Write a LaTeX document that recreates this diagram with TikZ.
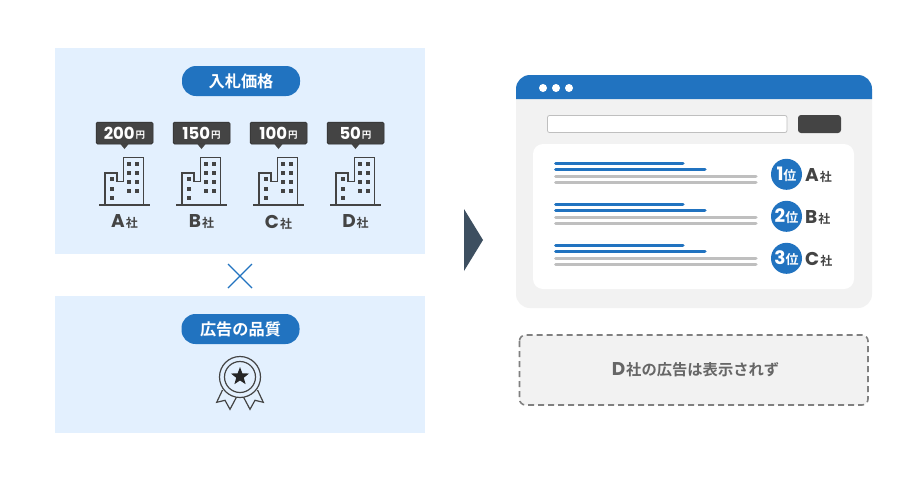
\documentclass[tikz,border=0pt]{standalone}
\usepackage{fontspec}
\usetikzlibrary{shapes.geometric}
\setmainfont{Poppins}
\newfontfamily\jp{Noto Sans CJK JP}[BoldFont={Noto Sans CJK JP Bold}]
\definecolor{panelblue}{HTML}{E3F0FE}
\definecolor{mainblue}{HTML}{2173C0}
\definecolor{darkgray}{HTML}{444444}
\definecolor{lightpanel}{HTML}{F2F2F2}
\definecolor{arrowslate}{HTML}{3D4F60}
\tikzset{
  x=1pt,y=-1pt,
  pill/.style={fill=mainblue,text=white,rounded corners=14pt,minimum width=118pt,minimum height=30pt,inner sep=0pt,font=\jp\bfseries\fontsize{16.2}{16.2}\selectfont},
  pricetag/.style={fill=darkgray,draw=black!85,line width=.5pt,rounded corners=1.5pt,minimum width=57pt,minimum height=22pt,inner sep=0pt,text=white},
  bline/.style={draw=darkgray,line width=1.2pt,fill=none,line join=miter},
  win/.style={fill=darkgray},
  corp/.style={text=darkgray,inner sep=0pt},
  resbar/.style={line width=3pt,line cap=round},
}
\newcommand{\lat}[1]{{\bfseries\fontsize{16.5}{16.5}\selectfont #1}}
\newcommand{\biglat}[1]{{\bfseries\fontsize{18.5}{18.5}\selectfont #1}}
\newcommand{\sm}[1]{{\jp\bfseries\fontsize{12}{12}\selectfont #1}}
\newcommand{\corpbuilding}[4]{%
  \begin{scope}[shift={(#1,0)}]
    \node[pricetag] (tag#2) at (124.5,133) {\raisebox{-.7pt}{\lat{#3}}\hspace{1pt}{\jp\bfseries\fontsize{9.5}{9.5}\selectfont 円}};
    \fill[darkgray] (120,143.5) -- (129,143.5) -- (124.5,149) -- cycle;
    \draw[bline] (99,205) -- (150,205);
    \draw[bline] (105,205) -- (105,173) -- (117,173) -- (117,181.7) -- (123.3,181.7) -- (123.3,157.3) -- (143.3,157.3) -- (143.3,205);
    \foreach \wy in {179.3,188.7,198} \fill[win] (109.7,\wy-2) rectangle ++(4,4);
    \foreach \wx in {129.3,137} \foreach \wy in {164,173,182.3,191.3} \fill[win] (\wx-2,\wy-2) rectangle ++(4,4);
    \node[corp] (corp#2) at (124.5,222) {\biglat{#4}\hspace{1pt}\sm{社}};
  \end{scope}}
\begin{document}
\begin{tikzpicture}
\useasboundingbox (0,0) rectangle (919,480);
\fill[white] (0,0) rectangle (919,480);
% left panels
\fill[panelblue] (55,48) rectangle (425,254);
\fill[panelblue] (55,296) rectangle (425,433);
\node[pill] (bid) at (241,81) {入札価格};
\node[pill] (quality) at (240.5,329) {広告の品質};
\corpbuilding{0}{a}{200}{A}
\corpbuilding{77}{b}{150}{B}
\corpbuilding{154}{c}{100}{C}
\corpbuilding{231}{d}{50}{D}
% times
\draw[mainblue,line width=1.2pt] (228,264) -- (252,288) (252,264) -- (228,288);
% medal
\draw[darkgray,line width=1.2pt,line join=miter,fill=panelblue]
  (222.5,390) -- (216.7,402.3) -- (225,400.3) -- (230,409.3) -- (236.7,396.7);
\draw[darkgray,line width=1.2pt,line join=miter,fill=panelblue]
  (257.5,390) -- (263.3,402.3) -- (255,400.3) -- (250,409.3) -- (243.3,396.7);
\draw[darkgray,line width=1.2pt,fill=panelblue] (240,377) circle (20.5);
\draw[darkgray,line width=1.2pt] (240,377) circle (15.5);
\node[star,star points=5,star point ratio=2.4,fill=black!85,minimum size=19pt,inner sep=0pt] (medalstar) at (240,376.5) {};
% arrow
\fill[arrowslate] (464,209) -- (483,240) -- (464,271) -- cycle;
% browser
\fill[lightpanel,rounded corners=14pt] (516,75) rectangle (872,308);
\fill[mainblue] (516,99) -- (516,89) arc[start angle=180,end angle=270,radius=14] -- (858,75) arc[start angle=270,end angle=360,radius=14] -- (872,99) -- cycle;
\foreach \dx in {543,556,569} \fill[white] (\dx,88) circle (4);
\draw[black!25,fill=white,rounded corners=2pt,line width=.8pt] (547.5,115.5) rectangle (787,132.5);
\fill[darkgray,rounded corners=3pt] (798,115) rectangle (841,133);
\fill[white,rounded corners=10pt] (533,144) rectangle (854,289);
\foreach \ry/\by/\rk/\rc in {0/0/1/A,42/41/2/B,84/82/3/C}{
  \draw[resbar,mainblue] (555.5,163+\by) -- (683,163+\by);
  \draw[resbar,mainblue] (555.5,169+\by) -- (705,169+\by);
  \draw[resbar,black!25] (555.5,176.5+\by) -- (756,176.5+\by);
  \draw[resbar,black!25] (555.5,182.5+\by) -- (756,182.5+\by);
  \node[circle,fill=mainblue,minimum size=31pt,inner sep=0pt,text=white] (rank\rk) at (786.5,174.3+\ry) {\biglat{\rk}{\jp\bfseries\fontsize{13}{13}\selectfont 位}};
  \node[corp,anchor=west] (res\rc) at (805,175.5+\ry) {\biglat{\rc}\hspace{1pt}\sm{社}};
}
% dashed box
\draw[draw=black!50,fill=lightpanel,dash pattern=on 6pt off 4pt,line width=1.6pt,rounded corners=6pt] (519.5,335) rectangle (868,405);
\node[text=black!60,inner sep=0pt] (hidden) at (695.5,370) {\biglat{D}\hspace{1pt}{\jp\bfseries\fontsize{15.3}{15.3}\selectfont 社の広告は表示されず}};
\end{tikzpicture}
\end{document}
